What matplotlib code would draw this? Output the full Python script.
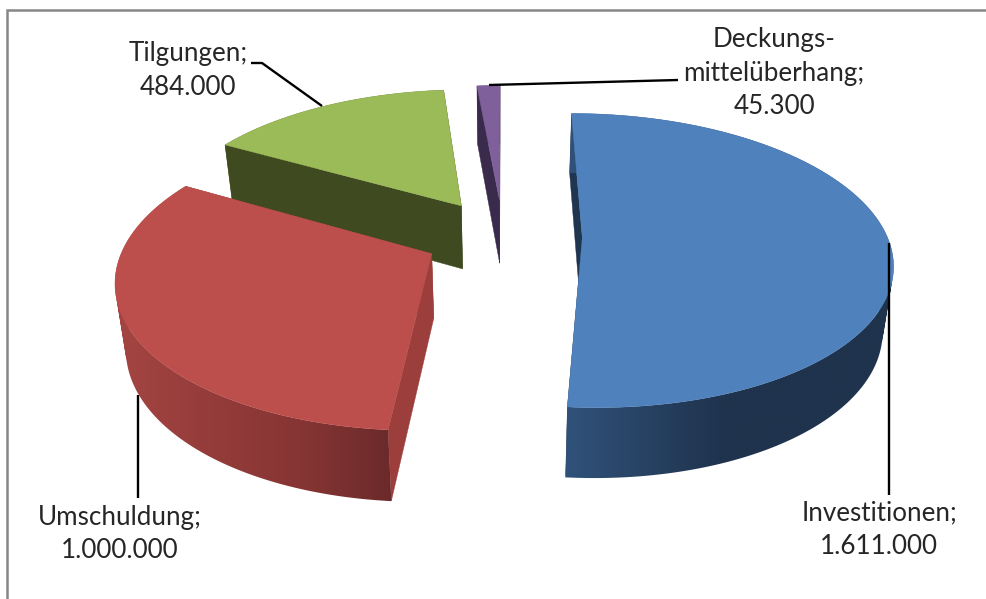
# exploded 3D pie, drawn by hand with a simple camera projection
import numpy as np
import matplotlib
matplotlib.use("Agg")
import matplotlib.pyplot as plt
from matplotlib.colors import to_rgb
from matplotlib.path import Path
from matplotlib.patches import PathPatch

names = ["Investitionen", "Umschuldung", "Tilgungen", "Deckungs-\nmittelüberhang"]
values = [1611000, 1000000, 484000, 45300]

top_colors = ["#4F81BD", "#BC4F4C", "#9BBB59", "#7F609B"]
face_colors = ["#1F3550", "#9C3E3C", "#404A20", "#3A2B4D"]
# wall shading along screen x
wall_stops = [
    ([565, 723, 900], ["#30527A", "#1F334D", "#1F334D"]),
    ([115, 200, 300, 393], ["#A44543", "#963D3B", "#863534", "#6B2A2A"]),
    ([220, 470], ["#404A20", "#404A20"]),
    ([470, 510], ["#3A2B4D", "#3A2B4D"]),
]
draw_order = [3, 2, 0, 1]

label_xy = [(879, 530), (120, 534), (188, 70.5), (774, 73)]
leaders = [
    ([889, 889], [243, 495]),
    ([138, 138], [395, 498]),
    ([251, 262, 322], [63, 63, 106]),
    ([489, 678], [85, 80]),
]

# camera fit, all in pixels of the 986x599 picture
EXPLODE = 0.26
W0 = 6.40
XC, F = 503, 1950
TOP_H, TOP_A = -679, 5856
BOT_H, BOT_A = -648.6, 6072
BOT_X = 0.972


def project(x, z, bottom=False):
    w = W0 - np.asarray(z, dtype=float)
    x = np.asarray(x, dtype=float)
    if bottom:
        return XC + BOT_X * F * x / w, BOT_H + BOT_A / w
    return XC + F * x / w, TOP_H + TOP_A / w


def wall_image(i):
    xs, cols = wall_stops[i]
    rgb = np.array([to_rgb(c) for c in cols])
    grid = np.linspace(xs[0], xs[-1], 400)
    row = np.stack([np.interp(grid, xs, rgb[:, k]) for k in range(3)], axis=1)
    return row[np.newaxis, :, :], [xs[0], xs[-1]]


def wall_path(tx, ty, bx, by):
    # one quad per arc step, all wound the same way so they merge when filled
    quads = []
    for j in range(len(tx) - 1):
        q = np.array([[tx[j], ty[j]], [tx[j + 1], ty[j + 1]], [bx[j + 1], by[j + 1]], [bx[j], by[j]]])
        x, y = q[:, 0], q[:, 1]
        if np.dot(x, np.roll(y, -1)) - np.dot(y, np.roll(x, -1)) < 0:
            q = q[::-1]
        quads.append(Path(np.vstack([q, q[0]]), closed=True))
    return Path.make_compound_path(*quads)


fig = plt.figure(figsize=(9.86, 5.99), dpi=100)
ax = fig.add_axes([0, 0, 1, 1])

total = sum(values)
edges = np.concatenate([[0], np.cumsum(values) / total * 360])

z = 2
for i in draw_order:
    a0, a1 = edges[i], edges[i + 1]
    mid = np.radians((a0 + a1) / 2)
    cx = EXPLODE * np.sin(mid)
    cz = -EXPLODE * np.cos(mid)
    ang = np.radians(np.linspace(a0, a1, max(int(a1 - a0) * 2, 4)))
    rx = cx + np.sin(ang)
    rz = cz - np.cos(ang)
    tx, ty = project(rx, rz)
    bx, by = project(rx, rz, bottom=True)
    ctx, cty = project(cx, cz)
    cbx, cby = project(cx, cz, bottom=True)

    # radial cut faces
    for k in (0, -1):
        ax.fill([ctx, tx[k], bx[k], cbx], [cty, ty[k], by[k], cby],
                color=face_colors[i], lw=0.3, zorder=z)

    # outer wall, gradient image clipped to the wall shape
    wall = PathPatch(wall_path(tx, ty, bx, by), facecolor="none", edgecolor="none",
                     transform=ax.transData)
    ax.add_patch(wall)
    img, (x0, x1) = wall_image(i)
    im = ax.imshow(img, extent=[x0, x1, 599, 0], aspect="auto", zorder=z + 0.1,
                   interpolation="bilinear")
    im.set_clip_path(wall)

    ax.fill(np.r_[ctx, tx], np.r_[cty, ty], color=top_colors[i], lw=0.3, zorder=z + 0.2)
    z += 1

ax.set_xlim(0, 986)
ax.set_ylim(599, 0)
ax.axis("off")

for i, (n, v) in enumerate(zip(names, values)):
    ax.plot(leaders[i][0], leaders[i][1], color="black", lw=1.7, zorder=20,
            solid_capstyle="butt", solid_joinstyle="round")
    txt = n + ";\n" + f"{v:,}".replace(",", ".")
    ax.text(label_xy[i][0], label_xy[i][1], txt, family="Lato", fontsize=18.7, color="#262626",
            ha="center", va="center", linespacing=1.42, zorder=21)

# chart frame, only top and left show in the crop
ax.plot([7, 7, 986], [599, 10, 10], color="#868686", lw=1.8, zorder=1, solid_joinstyle="miter")

fig.savefig("out.png", dpi=100, facecolor="white")
